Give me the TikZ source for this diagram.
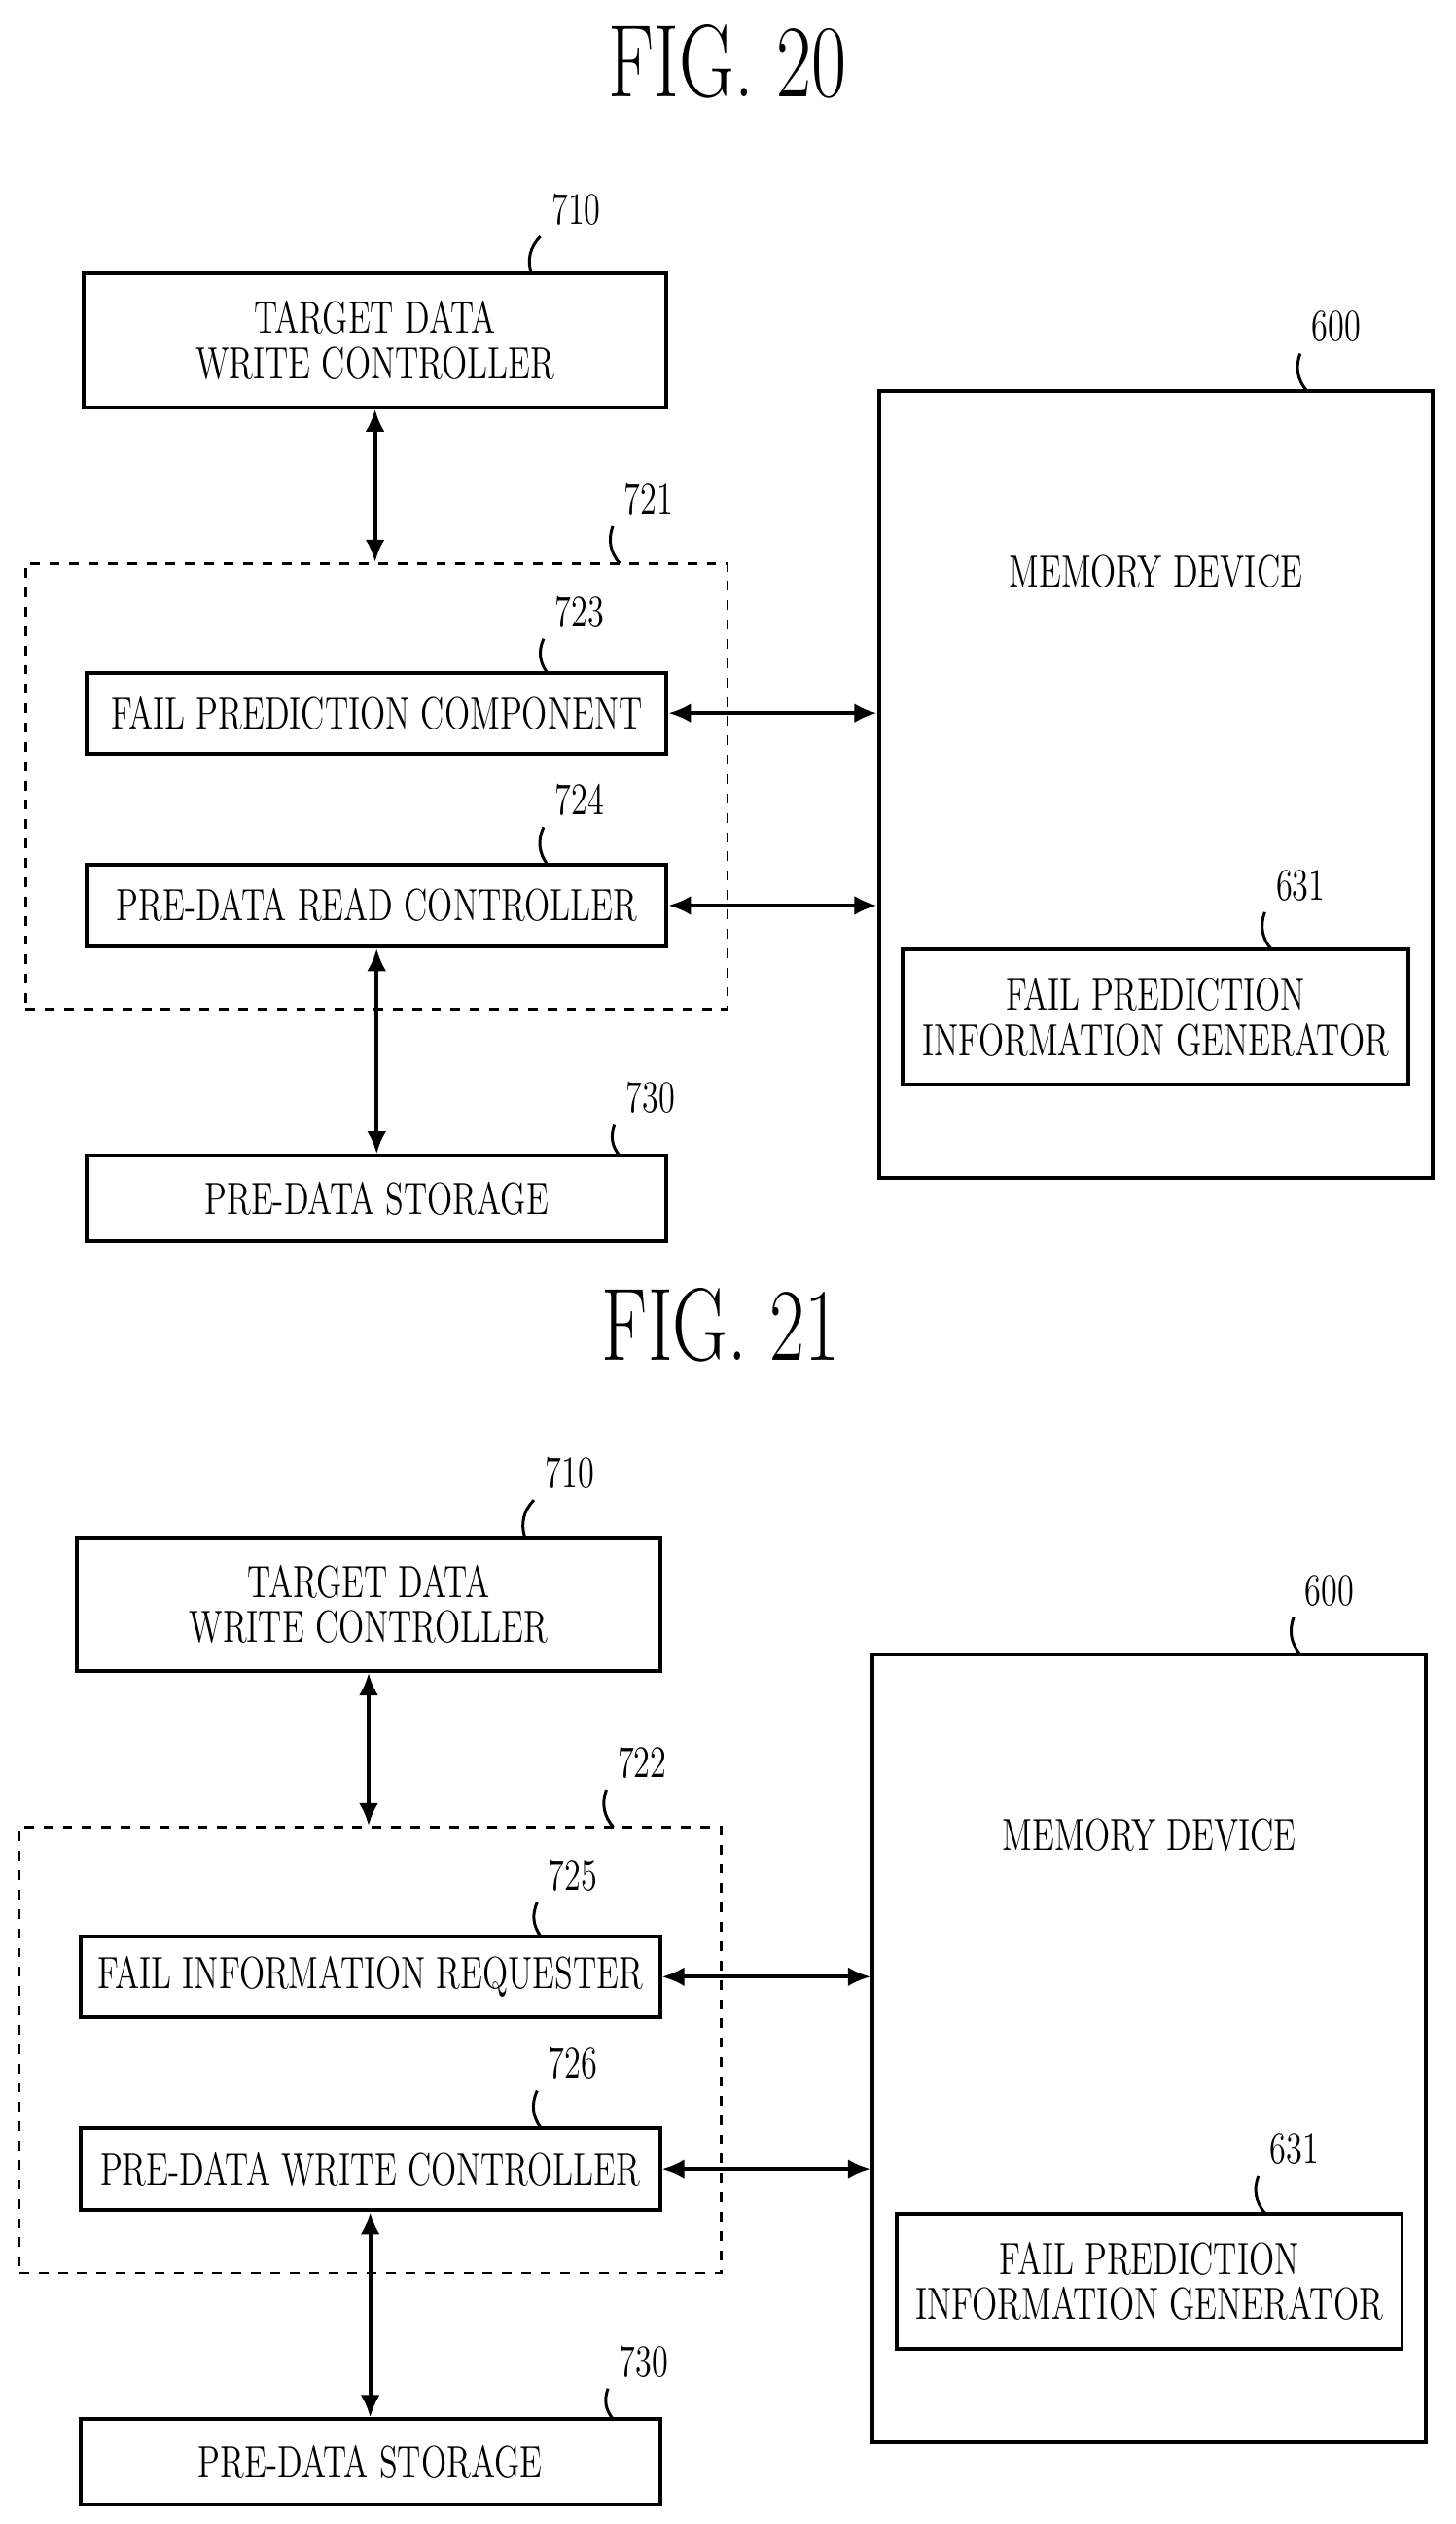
\documentclass[tikz,border=0pt]{standalone}
\usepackage{graphicx}
\usetikzlibrary{arrows.meta}
\newcommand{\nt}[1]{\scalebox{0.74}[1]{#1}}
\tikzset{
  blk/.style={draw,line width=1.2pt,inner sep=0pt},
  lbl/.style={font=\fontsize{14}{16}\selectfont},
  num/.style={font=\fontsize{14}{16}\selectfont},
  arr/.style={{Latex[length=7pt,width=6pt]}-{Latex[length=7pt,width=6pt]},line width=1.2pt},
  lead/.style={line width=0.9pt}
}
% sizes given in half points (1 unit = 0.5pt)
\newcommand{\drawfig}[7]{%
\begin{scope}[yshift=#1]
  \node[font=\fontsize{32}{36}\selectfont] (title) at (452,38) {\nt{FIG. #2}};
  \node[blk,minimum width=181pt,minimum height=41.5pt] (twc) at (233,211.5) {};
  \node[lbl,align=center] at (twc) {\nt{TARGET DATA}\\[-2pt]\nt{WRITE CONTROLLER}};
  \node[num] (n710) at (358,130) {\nt{710}};
  \draw[lead] (n710.south west) to[bend right=30] (330,170);
  \node[draw,dashed,line width=0.8pt,minimum width=218pt,minimum height=138.5pt,inner sep=0pt] (grp) at (234,488.5) {};
  \node[num] (ngrp) at (403,310) {\nt{#3}};
  \draw[lead] (ngrp.south west) to[bend right=30] (385,350);
  \node[blk,minimum width=180pt,minimum height=25pt] (up) at (234,443) {};
  \node[lbl] at (up) {\nt{#5}};
  \node[num] (nup) at (360,380) {\nt{#4}};
  \draw[lead] (nup.south west) to[bend right=30] (340,418);
  \node[blk,minimum width=180pt,minimum height=25.5pt] (lo) at (234,562.5) {};
  \node[lbl] at (lo) {\nt{#7}};
  \node[num] (nlo) at (360,497) {\nt{#6}};
  \draw[lead] (nlo.south west) to[bend right=30] (340,537);
  \node[blk,minimum width=172pt,minimum height=244.5pt] (mem) at (718,487.5) {};
  \node[lbl] at (718,355) {\nt{MEMORY DEVICE}};
  \node[num] (n600) at (830,203) {\nt{600}};
  \draw[lead] (n600.south west) to[bend right=30] (812,243);
  \node[blk,minimum width=157pt,minimum height=42pt] (gen) at (718,632) {};
  \node[lbl,align=center] at (gen) {\nt{FAIL PREDICTION}\\[-2pt]\nt{INFORMATION GENERATOR}};
  \node[num] (n631) at (808,550) {\nt{631}};
  \draw[lead] (n631.south west) to[bend right=30] (790,590);
  \node[blk,minimum width=180pt,minimum height=26.5pt] (sto) at (234,744.5) {};
  \node[lbl] at (sto) {\nt{PRE-DATA STORAGE}};
  \node[num] (n730) at (404,682) {\nt{730}};
  \draw[lead] (n730.south west) to[bend right=30] (385,718);
  \draw[arr] (twc.south) -- (grp.north -| twc.south);
  \draw[arr] (up.east) -- (up.east -| mem.west);
  \draw[arr] (lo.east) -- (lo.east -| mem.west);
  \draw[arr] (lo.south) -- (sto.north);
\end{scope}}
\begin{document}
\begin{tikzpicture}[x=0.5pt,y=-0.5pt]
  \useasboundingbox (0,0) rectangle (904,1568);
  \drawfig{0pt}{20}{721}{723}{FAIL PREDICTION COMPONENT}{724}{PRE-DATA READ CONTROLLER}
  \begin{scope}[xshift=-2pt]
  \drawfig{-392.5pt}{21}{722}{725}{FAIL INFORMATION REQUESTER}{726}{PRE-DATA WRITE CONTROLLER}
  \end{scope}
\end{tikzpicture}
\end{document}
